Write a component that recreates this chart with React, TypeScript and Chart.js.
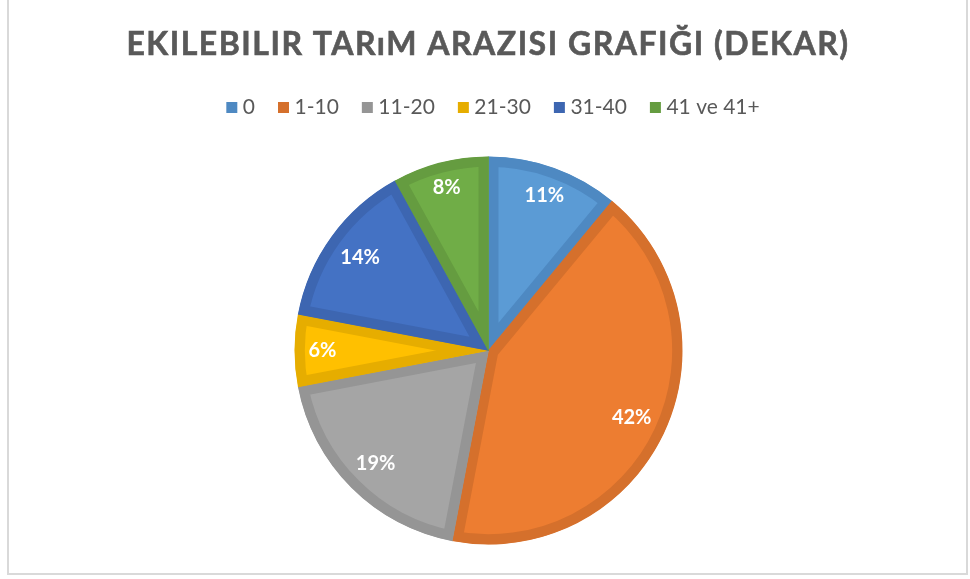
import React, { useEffect, useRef } from 'react';
import { Chart, registerables } from 'chart.js';

Chart.register(...registerables);

const TITLE = 'EKILEBILIR TARıM ARAZISI GRAFIĞI (DEKAR)';
const categories = ['0', '1-10', '11-20', '21-30', '31-40', '41 ve 41+'];
const percentages = [11, 42, 19, 6, 14, 8];
const fillColors = ['#5B9BD5', '#ED7D31', '#A5A5A5', '#FFC000', '#4472C4', '#70AD47'];
const borderColors = ['#4E89C2', '#D5702C', '#959595', '#E6AD00', '#3D66B1', '#659C40'];

const FONT = 'Lato, "Open Sans", sans-serif';
const TEXT_COLOR = '#595959';

const titlePlugin = {
  id: 'customTitle',
  afterLayout(chart: any) {
    // nudge the legend slightly to the right, as in the reference
    if (chart.legend) {
      chart.legend.left += 7;
      chart.legend.right += 7;
    }
  },
  afterDraw(chart: any) {
    const ctx = chart.ctx;
    ctx.save();
    ctx.font = `bold 32px ${FONT}`;
    (ctx as any).letterSpacing = '1.5px';
    ctx.fillStyle = TEXT_COLOR;
    ctx.strokeStyle = TEXT_COLOR;
    ctx.lineWidth = 0.6;
    ctx.textAlign = 'center';
    ctx.textBaseline = 'middle';
    ctx.fillText(TITLE, 479, 53);
    ctx.strokeText(TITLE, 479, 53);
    ctx.restore();
  },
};

const labelPlugin = {
  id: 'pieLabels',
  afterDatasetsDraw(chart: any) {
    const ctx = chart.ctx;
    const meta = chart.getDatasetMeta(0);
    const data = chart.data.datasets[0].data as number[];
    ctx.save();
    ctx.font = `bold 20px ${FONT}`;
    ctx.fillStyle = '#FFFFFF';
    ctx.textAlign = 'center';
    ctx.textBaseline = 'middle';
    meta.data.forEach((arc: any, i: number) => {
      const { x, y, startAngle, endAngle, outerRadius } = arc.getProps(
        ['x', 'y', 'startAngle', 'endAngle', 'outerRadius'],
        true
      );
      const mid = (startAngle + endAngle) / 2;
      const ux = Math.cos(mid);
      const uy = Math.sin(mid);
      const text = `${data[i]}%`;
      const w = ctx.measureText(text).width;
      const h = 18;
      const ext = Math.abs(ux) * (w / 2) + Math.abs(uy) * (h / 2);
      const r = outerRadius - 14 - ext;
      ctx.fillText(text, x + ux * r, y + uy * r);
    });
    ctx.restore();
  },
};

export default function App() {
  const canvasRef = useRef<HTMLCanvasElement | null>(null);

  useEffect(() => {
    if (!canvasRef.current) return;
    const chart = new Chart(canvasRef.current, {
      type: 'pie',
      data: {
        labels: categories,
        datasets: [
          {
            data: percentages,
            backgroundColor: fillColors,
            borderColor: borderColors,
            borderWidth: 10,
            borderAlign: 'inner',
            borderJoinStyle: 'miter',
            radius: 194,
          } as any,
        ],
      },
      options: {
        animation: false,
        responsive: true,
        maintainAspectRatio: false,
        events: [],
        layout: { padding: { top: 77, bottom: -11, left: 2, right: 0 } },
        plugins: {
          title: { display: false },
          tooltip: { enabled: false },
          legend: {
            display: true,
            position: 'top',
            labels: {
              color: TEXT_COLOR,
              font: { family: FONT, size: 21 },
              boxWidth: 1,
              boxHeight: 1,
              padding: 28,
              generateLabels: () =>
                categories.map((c, i) => ({
                  text: c,
                  fillStyle: borderColors[i],
                  strokeStyle: borderColors[i],
                  lineWidth: 10,
                  fontColor: TEXT_COLOR,
                  hidden: false,
                  index: i,
                })),
            },
          },
        },
      },
      plugins: [titlePlugin, labelPlugin],
    });
    return () => chart.destroy();
  }, []);

  return (
    <div
      style={{
        position: 'absolute',
        left: 7,
        top: -10,
        width: 961,
        height: 585,
        border: '2px solid #D9D9D9',
        boxSizing: 'border-box',
        background: '#FFFFFF',
      }}
    >
      <div style={{ position: 'relative', width: '100%', height: '100%' }}>
        <canvas ref={canvasRef} />
      </div>
    </div>
  );
}
